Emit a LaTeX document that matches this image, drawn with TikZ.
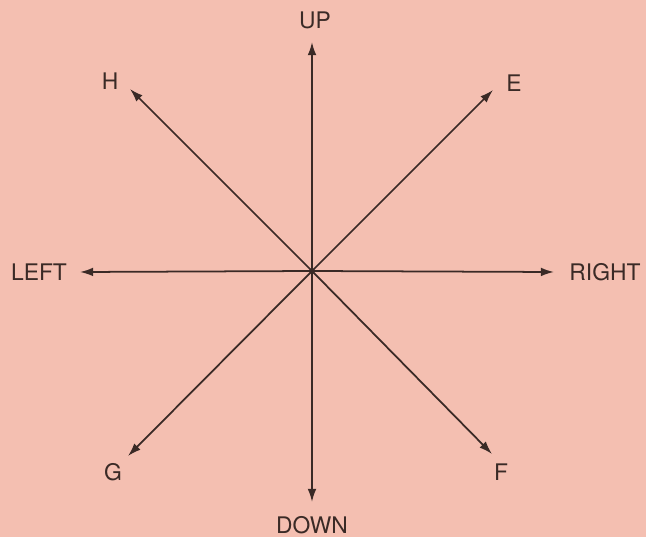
\documentclass[tikz,border=0pt]{standalone}
\usepackage{fontspec}
\setmainfont{TeX Gyre Heros}
\usepackage{tikz}
\usetikzlibrary{arrows.meta, positioning, calc}
\definecolor{paper}{HTML}{F4BFB1}
\definecolor{ink}{HTML}{3A2A26}

\begin{document}
\begin{tikzpicture}[
    x=0.02cm, y=-0.02cm,
    every node/.style={text=ink, font=\fontsize{13}{15}\selectfont, inner sep=0pt},
    arrow/.style={-{Latex[length=7.5pt, width=5pt]}, draw=ink, line width=1pt}
]
\fill[paper] (0,0) rectangle (646,537);
\useasboundingbox (0,0) rectangle (646,537);
% centre and arrow tips
\coordinate (centre) at (312,271);
\coordinate (tipup) at (312,42);
\coordinate (tipdown) at (312,502);
\coordinate (tipleft) at (80,272);
\coordinate (tipright) at (554,272);
\coordinate (tiph) at (130,89);
\coordinate (tipe) at (493,90);
\coordinate (tipg) at (128,456);
\coordinate (tipf) at (492,454);
% labels
\node (up) at (315,20) {UP};
\node (down) at (312,525) {DOWN};
\node (left) at (39,272) {LEFT};
\node (right) at (605,272) {RIGHT};
\node (h) at (110,81) {H};
\node (e) at (514,83) {E};
\node (g) at (113,472) {G};
\node (f) at (501,472) {F};
% arrows
\foreach \tip in {tipup, tipdown, tipleft, tipright, tiph, tipe, tipg, tipf}
    \draw[arrow] (centre) -- (\tip);
\fill[ink] (centre) circle (3);
\end{tikzpicture}
\end{document}
